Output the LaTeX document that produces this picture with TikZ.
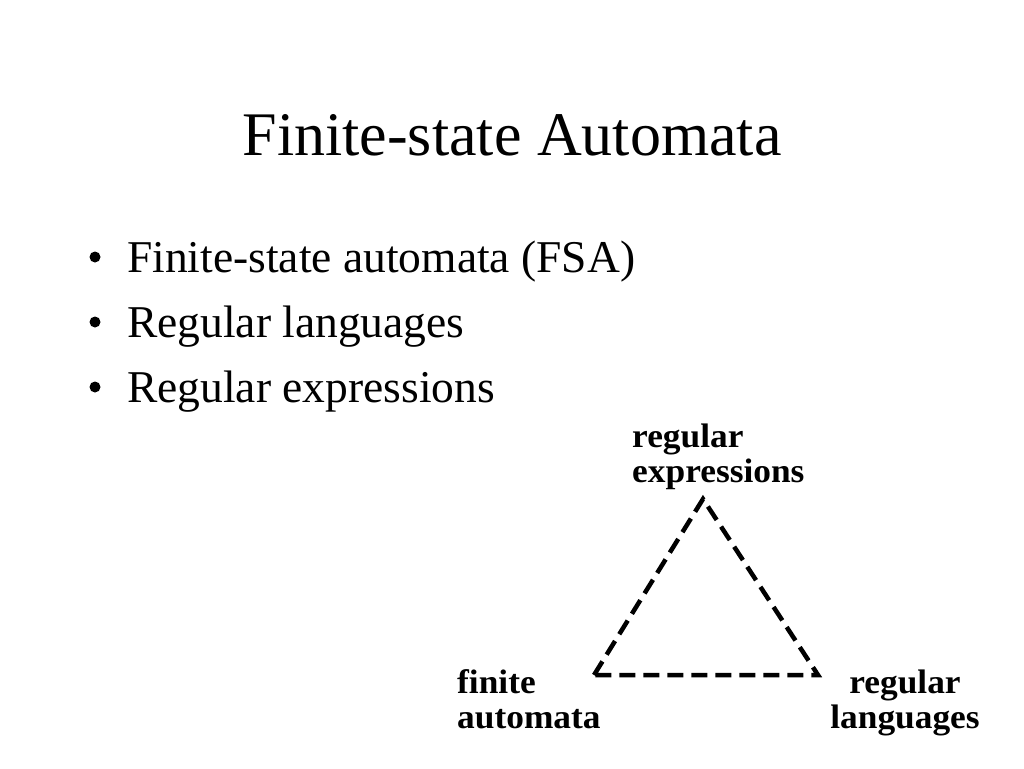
\documentclass[tikz,border=0pt]{standalone}
\usepackage{fontspec}
\setmainfont{Liberation Serif}
\newfontfamily\labelfont[FakeStretch=1.04]{Liberation Serif}
\begin{document}
\begin{tikzpicture}[x=1pt, y=-1pt,
        every node/.style={inner sep=0pt},
        title/.style={anchor=base, font=\fontsize{62}{70}\selectfont},
        item/.style={anchor=base west, font=\fontsize{45.5}{52}\selectfont},
        dot/.style={circle, fill=black, minimum size=11pt},
        corner/.style={font=\labelfont\bfseries\fontsize{34}{35}\selectfont},
        tri/.style={line width=4.5pt, dash pattern=on 16pt off 8pt}]
            \useasboundingbox (0, 0) rectangle (1024, 768);

            \node[title] (head) at (512, 155) {Finite-state Automata};

            \node[dot] (b1) at (95, 257) {};
            \node[dot] (b2) at (95, 322) {};
            \node[dot] (b3) at (95, 387) {};
            \node[item] (fsa) at (127, 272) {Finite-state automata (FSA)};
            \node[item] (lang) at (127, 337) {Regular languages};
            \node[item] (expr) at (127, 402) {Regular expressions};

            \coordinate (fa) at (594, 675);
            \coordinate (re) at (703, 499);
            \coordinate (rl) at (818, 675);
            \draw[tri] (fa) -- (re) -- (rl) -- cycle;

            % base anchor sits on the last line
            \node[corner, anchor=base west, align=left] (relabel) at (632, 482) {regular\\expressions};
            \node[corner, anchor=base west, align=left] (falabel) at (457, 728) {finite\\automata};
            \node[corner, anchor=base, align=center] (rllabel) at (905, 728) {regular\\languages};
        \end{tikzpicture}
\end{document}
